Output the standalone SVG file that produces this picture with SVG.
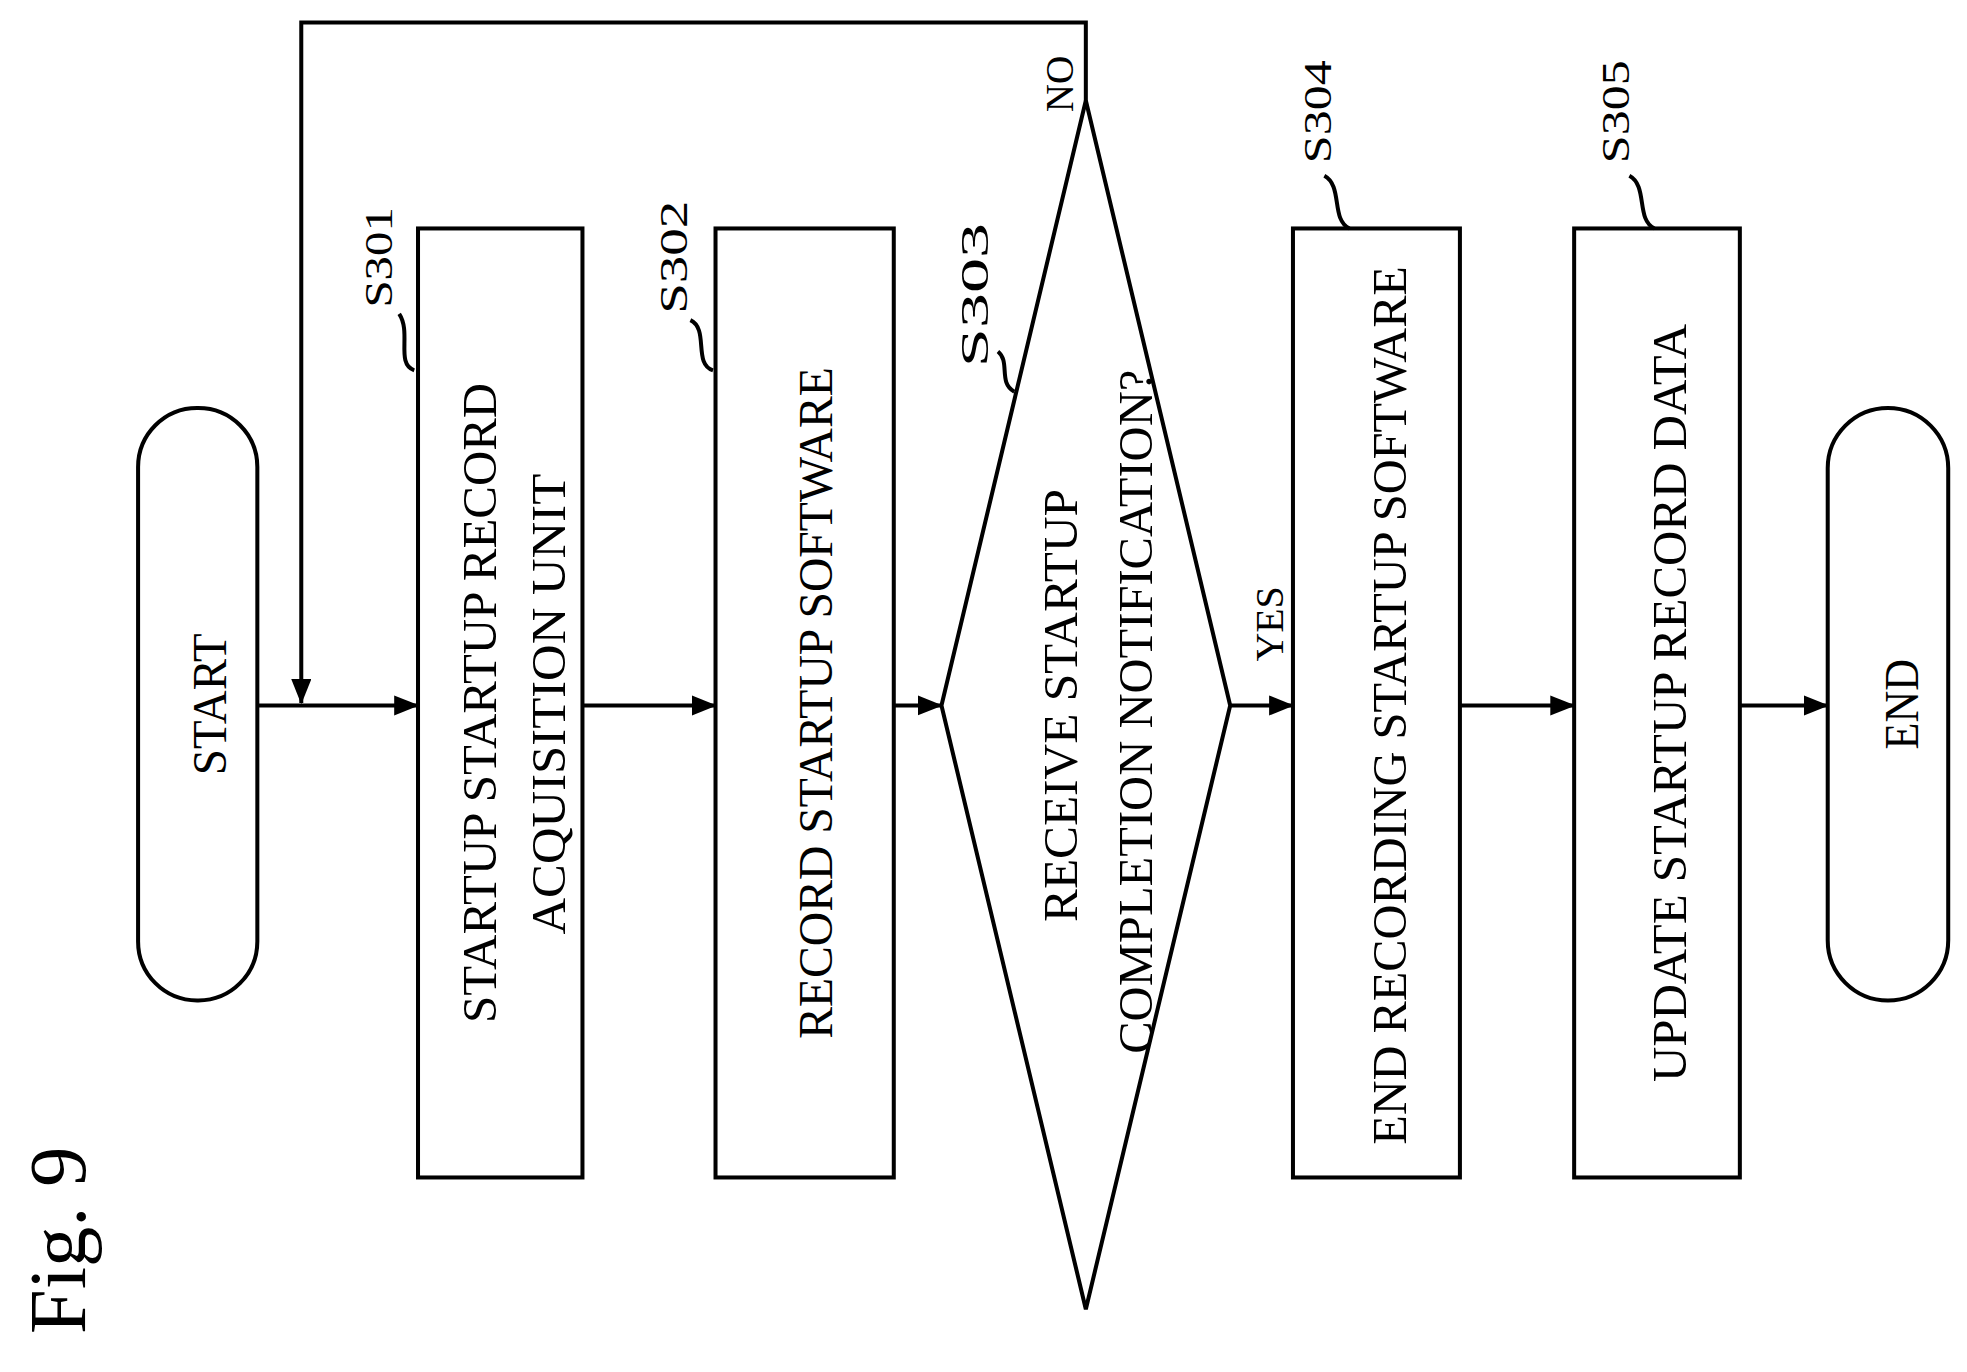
<svg xmlns="http://www.w3.org/2000/svg" width="1967" height="1372" viewBox="0 0 1967 1372">
<style>
.s{fill:#fff;stroke:#000;stroke-width:3.2}
.c{fill:none;stroke:#000;stroke-width:3.2}
text{font-family:"Liberation Serif",serif;fill:#000;text-anchor:middle}
.t{font-size:38px}
.l{font-size:32px}
</style>
<defs>
<marker id="b" markerWidth="20" markerHeight="16" refX="19" refY="8" orient="auto" markerUnits="userSpaceOnUse"><path d="M0,0 L20,8 L0,16z" fill="#000"/></marker></defs>
<rect width="1967" height="1372" fill="#fff"/>
<g transform="scale(1.2553)">
<text transform="translate(68,988) rotate(-90)" style="font-size:64px">Fig. 9</text>
<g id="start"><rect class="s" x="110" y="325" width="95" height="472" rx="47"/><text class="t" transform="translate(180,561) rotate(-90)" textLength="113" lengthAdjust="spacingAndGlyphs">START</text></g>
<g id="s301"><rect class="s" x="333" y="182" width="131" height="756"/>
<text class="t" transform="translate(395,560) rotate(-90)" textLength="510" lengthAdjust="spacingAndGlyphs">STARTUP STARTUP RECORD</text>
<text class="t" transform="translate(450,561) rotate(-90)" textLength="367" lengthAdjust="spacingAndGlyphs">ACQUISITION UNIT</text>
<text class="l" transform="translate(312,205) rotate(-90)" textLength="80" lengthAdjust="spacingAndGlyphs">S301</text>
<path class="c" d="M330,295 C315,290 328,265 318,250"/></g>
<g id="s302"><rect class="s" x="570" y="182" width="142" height="756"/>
<text class="t" transform="translate(663,560) rotate(-90)" textLength="535" lengthAdjust="spacingAndGlyphs">RECORD STARTUP SOFTWARE</text>
<text class="l" transform="translate(547,205) rotate(-90)" textLength="90" lengthAdjust="spacingAndGlyphs">S302</text>
<path class="c" d="M568,295 C552,290 565,262 550,255"/></g>
<g id="s303"><path class="s" d="M865,80 L980,562 L865,1043 L750,562Z"/>
<text class="t" transform="translate(858,562) rotate(-90)" textLength="345" lengthAdjust="spacingAndGlyphs">RECEIVE STARTUP</text>
<text class="t" transform="translate(918,567) rotate(-90)" textLength="545" lengthAdjust="spacingAndGlyphs">COMPLETION NOTIFICATION?</text>
<text class="l" transform="translate(787,235) rotate(-90)" textLength="115" lengthAdjust="spacingAndGlyphs">S303</text>
<path class="c" d="M808,312 C795,305 805,288 795,280"/>
<text class="l" transform="translate(855,67) rotate(-90)" textLength="45" lengthAdjust="spacingAndGlyphs">NO</text>
<text class="l" transform="translate(1022,497) rotate(-90)" textLength="60" lengthAdjust="spacingAndGlyphs">YES</text></g>
<g id="s304"><rect class="s" x="1030" y="182" width="133" height="756"/>
<text class="t" transform="translate(1120,562) rotate(-90)" textLength="700" lengthAdjust="spacingAndGlyphs">END RECORDING STARTUP SOFTWARE</text>
<text class="l" transform="translate(1060,89) rotate(-90)" textLength="82" lengthAdjust="spacingAndGlyphs">S304</text>
<path class="c" d="M1075,182 C1060,175 1070,148 1055,140"/></g>
<g id="s305"><rect class="s" x="1254" y="182" width="132" height="756"/>
<text class="t" transform="translate(1343,560) rotate(-90)" textLength="604" lengthAdjust="spacingAndGlyphs">UPDATE STARTUP RECORD DATA</text>
<text class="l" transform="translate(1298,89) rotate(-90)" textLength="82" lengthAdjust="spacingAndGlyphs">S305</text>
<path class="c" d="M1318,182 C1303,175 1313,148 1298,140"/></g>
<g id="end"><rect class="s" x="1456" y="325" width="96" height="472" rx="48"/><text class="t" transform="translate(1528,561) rotate(-90)" textLength="72" lengthAdjust="spacingAndGlyphs">END</text></g>
<g id="connectors" class="c">
<path d="M205,562 H333" marker-end="url(#b)"/>
<path d="M464,562 H570" marker-end="url(#b)"/>
<path d="M712,562 H750" marker-end="url(#b)"/>
<path d="M980,562 H1030" marker-end="url(#b)"/>
<path d="M1163,562 H1254" marker-end="url(#b)"/>
<path d="M1386,562 H1456" marker-end="url(#b)"/>
<path d="M865,80 V18 H240 V560" marker-end="url(#b)"/>
</g>
</g>
</svg>
